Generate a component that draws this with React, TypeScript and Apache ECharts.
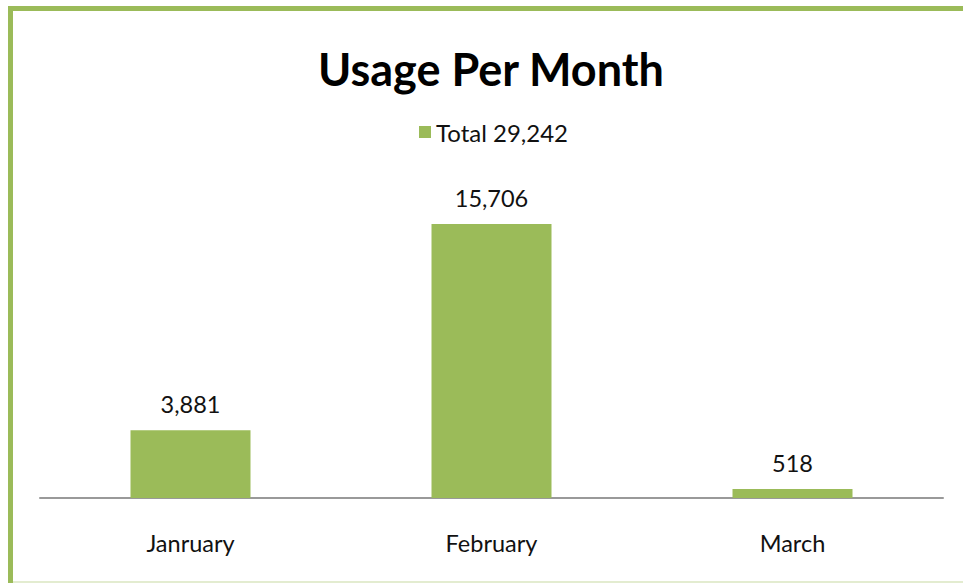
import React, { useEffect, useRef } from "react";
import * as echarts from "echarts";

const categories = ["Janruary", "February", "March"];
const usageValues = [3881, 15706, 518];
const seriesName = "Total 29,242";
const titleText = "Usage Per Month";

const GREEN = "#9BBB59";
const FONT = "Lato, 'Noto Sans', sans-serif";

export default function App() {
  const ref = useRef<HTMLDivElement>(null);
  useEffect(() => {
    if (!ref.current) return;
    const chart = echarts.init(ref.current, undefined, { renderer: "svg" });
    chart.setOption({
      animation: false,
      backgroundColor: "#ffffff",
      title: {
        text: titleText,
        left: 313,
        top: 41,
        textStyle: { fontFamily: FONT, fontWeight: "bold", fontSize: 45, color: "#000" },
      },
      legend: {
        top: 115,
        left: 414,
        itemWidth: 12,
        itemHeight: 12,
        itemGap: 10,
        icon: "rect",
        textStyle: { fontFamily: FONT, fontSize: 24, color: "#111", padding: [0, 0, 0, 0] },
        data: [seriesName],
      },
      grid: { left: 40, right: 20, top: 184, bottom: 85 },
      xAxis: {
        type: "category",
        data: categories,
        axisLine: { show: true, lineStyle: { color: "#999", width: 2 } },
        axisTick: { show: false },
        axisLabel: { fontFamily: FONT, fontSize: 23.5, color: "#111", margin: 33 },
      },
      yAxis: {
        type: "value",
        min: 0,
        max: 18000,
        show: false,
        splitLine: { show: false },
      },
      series: [
        {
          name: seriesName,
          type: "bar",
          data: usageValues,
          barWidth: 120,
          itemStyle: { color: GREEN },
          label: {
            show: true,
            position: "top",
            distance: 14,
            fontFamily: FONT,
            fontSize: 23.5,
            color: "#111",
            formatter: (p: any) => Number(p.value).toLocaleString("en-US"),
          },
        },
      ],
      graphic: [
        { type: "rect", silent: true, shape: { x: 8, y: 6, width: 5, height: 577 }, style: { fill: GREEN } },
        { type: "rect", silent: true, shape: { x: 8, y: 6, width: 955, height: 5 }, style: { fill: GREEN } },
        { type: "rect", silent: true, shape: { x: 13, y: 581, width: 950, height: 2 }, style: { fill: "#e3ecd0" } },
      ],
    });
    return () => chart.dispose();
  }, []);
  return (
    <div
      ref={ref}
      style={{ position: "fixed", left: 0, top: 0, width: 963, height: 583 }}
    />
  );
}
